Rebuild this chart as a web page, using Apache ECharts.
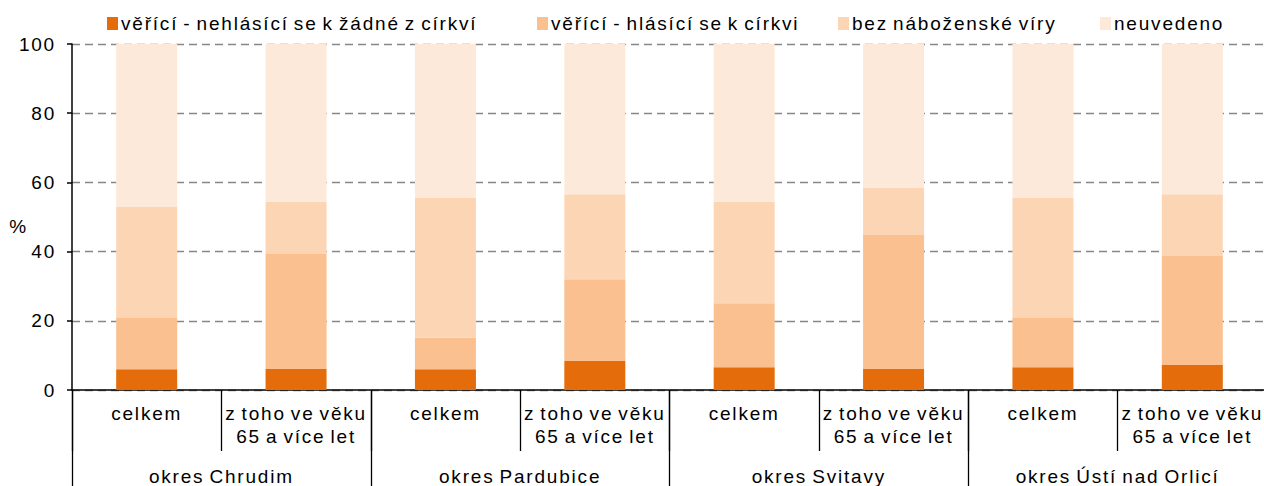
<!DOCTYPE html>
<html>
<head>
<meta charset="utf-8">
<script src="https://cdn.jsdelivr.net/npm/echarts@6/dist/echarts.min.js"></script>
<style>
html,body{margin:0;padding:0;background:#fff;}
#chart{width:1264px;height:486px;}
#chart text{letter-spacing:1.8px;word-spacing:-2px;}
</style>
</head>
<body>
<div id="chart"></div>
<script>
// ---- data ----
const categories = [
  'celkem', 'z toho ve věku\n65 a více let',
  'celkem', 'z toho ve věku\n65 a více let',
  'celkem', 'z toho ve věku\n65 a více let',
  'celkem', 'z toho ve věku\n65 a více let'
];
const groups = ['okres Chrudim', 'okres Pardubice', 'okres Svitavy', 'okres Ústí nad Orlicí'];
const seriesNames = [
  'věřící - nehlásící se k žádné z církví',
  'věřící - hlásící se k církvi',
  'bez náboženské víry',
  'neuvedeno'
];
const believersNoChurch = [6.0, 6.1, 6.0, 8.4, 6.6, 6.1, 6.6, 7.2];
const believersChurch   = [14.8, 33.2, 9.1, 23.6, 18.5, 38.7, 14.2, 31.5];
const noReligion        = [32.1, 15.2, 40.5, 24.6, 29.4, 13.6, 34.8, 17.9];
const notStated         = [47.1, 45.5, 44.4, 43.4, 45.5, 41.6, 44.4, 43.4];
const yMin = 0, yMax = 100, yStep = 20;

// ---- style ----
const FONT = "'Liberation Sans', Arial, sans-serif";
const FS = 19;
const colors = ['#E46C0A', '#FAC090', '#FCD5B5', '#FDE9D9'];
const seriesData = [believersNoChurch, believersChurch, noReligion, notStated];
const legendLefts = [107, 537, 838, 1100];

const chart = echarts.init(document.getElementById('chart'), null, {renderer: 'svg'});

const option = {
  animation: false,
  textStyle: {fontFamily: FONT, color: '#000'},
  grid: {left: 72, top: 44, width: 1195, bottom: 96, containLabel: false, outerBoundsMode: 'none'},
  legend: seriesNames.map((n, i) => ({
    data: [n],
    left: legendLefts[i],
    top: 14,
    padding: 0,
    icon: 'rect',
    itemWidth: 11,
    itemHeight: 13,
    itemGap: 5,
    selectedMode: false,
    textStyle: {fontSize: FS, color: '#000', fontFamily: FONT, padding: [0, 0, 0, -2]}
  })),
  xAxis: [
    {
      type: 'category',
      data: categories,
      position: 'bottom',
      axisLine: {show: true, lineStyle: {color: '#000', width: 1.5}},
      axisTick: {show: true, interval: 0, length: 61, lineStyle: {color: '#000', width: 1.3}},
      axisLabel: {interval: 0, fontSize: FS, color: '#000', fontFamily: FONT, margin: 12, lineHeight: 23},
      splitLine: {show: false}
    },
    {
      type: 'category',
      data: groups,
      position: 'bottom',
      axisLine: {show: false},
      axisTick: {show: true, interval: 0, length: 110, lineStyle: {color: '#000', width: 1.3}},
      axisLabel: {interval: 0, fontSize: FS, color: '#000', fontFamily: FONT, margin: 77},
      splitLine: {show: false}
    }
  ],
  yAxis: {
    type: 'value',
    min: yMin, max: yMax, interval: yStep,
    name: '%',
    nameLocation: 'middle',
    nameRotate: 0,
    nameGap: 44,
    nameMoveOverlap: false,
    nameTextStyle: {fontSize: FS, color: '#000', fontFamily: FONT, verticalAlign: 'top', align: 'right'},
    axisLine: {show: true, lineStyle: {color: '#000', width: 1.5}},
    axisTick: {show: true, length: 5, lineStyle: {color: '#000', width: 1.5}},
    axisLabel: {fontSize: FS, color: '#000', fontFamily: FONT, margin: 16},
    splitLine: {show: true, lineStyle: {color: '#878787', width: 1.3, type: [8, 5]}}
  },
  series: seriesNames.map((n, i) => ({
    name: n,
    type: 'bar',
    stack: 'total',
    xAxisIndex: 0,
    barWidth: 61,
    data: seriesData[i],
    itemStyle: {color: colors[i]},
    emphasis: {disabled: true}
  }))
};
chart.setOption(option);
</script>
</body>
</html>
